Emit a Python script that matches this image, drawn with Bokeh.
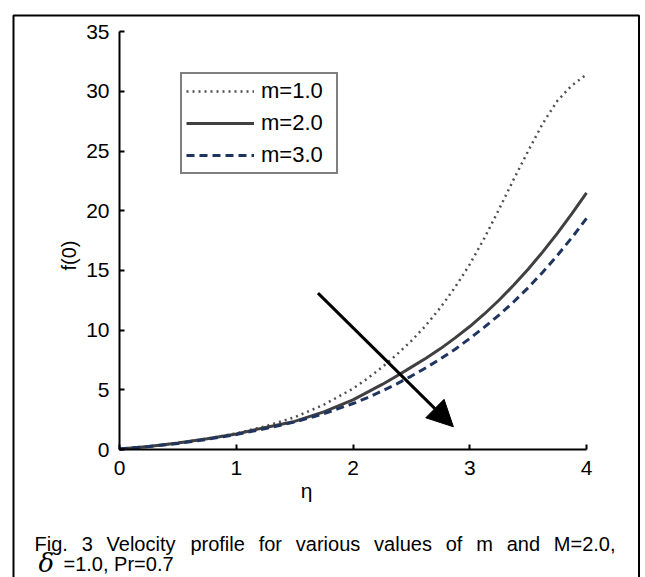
import math
from bokeh.plotting import figure
from bokeh.models import (Range1d, LinearAxis, FixedTicker, Legend, LegendItem,
                          Arrow, NormalHead)
from bokeh.embed import file_html
from bokeh.resources import INLINE
from bokeh.core.properties import value

# ---------------- data ----------------
eta = [0.0, 0.25, 0.5, 0.75, 1.0, 1.25, 1.5, 1.75, 2.0, 2.125, 2.25, 2.375,
       2.5, 2.625, 2.75, 2.875, 3.0, 3.125, 3.25, 3.375, 3.5, 3.625, 3.75,
       3.875, 4.0]
f_m1 = [0.05, 0.25, 0.55, 0.9, 1.35, 1.95, 2.7, 3.75, 5.1, 5.95, 6.9, 7.95,
        9.1, 10.4, 11.9, 13.6, 15.5, 17.7, 20.1, 22.6, 25.0, 27.3, 29.2,
        30.5, 31.4]
f_m2 = [0.05, 0.25, 0.55, 0.9, 1.3, 1.85, 2.35, 3.15, 4.15, 4.8, 5.45, 6.15,
        6.9, 7.65, 8.45, 9.35, 10.3, 11.35, 12.5, 13.75, 15.1, 16.55, 18.1,
        19.75, 21.5]
f_m3 = [0.05, 0.25, 0.5, 0.85, 1.25, 1.75, 2.3, 3.0, 3.85, 4.35, 4.9, 5.5,
        6.15, 6.85, 7.6, 8.4, 9.3, 10.25, 11.25, 12.35, 13.55, 14.85, 16.25,
        17.75, 19.35]
series_labels = ["m=1.0", "m=2.0", "m=3.0"]
x_ticks = [0, 1, 2, 3, 4]
y_ticks = [0, 5, 10, 15, 20, 25, 30, 35]
x_label = "\u03b7"
y_label = "f(0)"
caption_words = ["Fig.", "3", "Velocity", "profile", "for", "various",
                 "values", "of", "m", "and", "M=2.0,"]
caption_delta = "\u03b4"
caption_line2 = "=1.0, Pr=0.7"
# arrow (data coordinates)
arrow_start = (1.70, 13.1)
arrow_end = (2.86, 1.9)

# ---------------- geometry ----------------
W, H = 641, 577
X0_PX, PX_PER_X = 119.0, 116.75     # px of eta=0, px per unit
Y0_PX, PX_PER_Y = 449.0, 11.94      # px of f=0, px per unit


def px2x(px):
    return (px - X0_PX) / PX_PER_X


def px2y(py):
    return (Y0_PX - py) / PX_PER_Y


FONT = "Liberation Sans"

p = figure(width=W, height=H, output_backend="svg", toolbar_location=None,
           x_axis_location=None, y_axis_location=None,
           x_range=Range1d(px2x(0), px2x(W)),
           y_range=Range1d(px2y(H), px2y(0)),
           min_border=0, min_border_left=0, min_border_right=0,
           min_border_top=0, min_border_bottom=0)
p.outline_line_color = None
p.grid.visible = False
p.background_fill_color = "white"
p.border_fill_color = "white"


def style_axis(ax):
    ax.axis_line_color = "black"
    ax.axis_line_width = 2
    ax.major_tick_in = 5
    ax.major_tick_out = 0
    ax.major_tick_line_color = "black"
    ax.major_tick_line_width = 2
    ax.minor_tick_line_color = None
    ax.major_label_text_font = FONT
    ax.major_label_text_font_size = "21px"
    ax.major_label_text_color = "black"


xaxis = LinearAxis(fixed_location=0, bounds=(0, 4),
                   ticker=FixedTicker(ticks=x_ticks))
style_axis(xaxis)
xaxis.major_label_standoff = 11
p.add_layout(xaxis, "below")

yaxis = LinearAxis(fixed_location=0, bounds=(0, 35),
                   ticker=FixedTicker(ticks=y_ticks))
style_axis(yaxis)
yaxis.major_label_standoff = 10
p.add_layout(yaxis, "left")

# ---------------- outer frame (open at the bottom) ----------------
fx_l, fx_r, fy_t, fy_b = px2x(13), px2x(638.5), px2y(15), px2y(H + 20)
p.line([fx_l, fx_l, fx_r, fx_r], [fy_b, fy_t, fy_t, fy_b],
       line_color="black", line_width=2)

# ---------------- curves ----------------
r1 = p.line(eta, f_m1, line_color="#505050", line_width=2.5, line_dash="2 4")
r2 = p.line(eta, f_m2, line_color="#404040", line_width=3)
r3 = p.line(eta, f_m3, line_color="#1f3560", line_width=3, line_dash="8 5")

legend = Legend(items=[LegendItem(label=series_labels[0], renderers=[r1]),
                       LegendItem(label=series_labels[1], renderers=[r2]),
                       LegendItem(label=series_labels[2], renderers=[r3])],
                location=(180, H - 174),
                border_line_color="black", border_line_width=2,
                background_fill_color="white", background_fill_alpha=1,
                padding=4, spacing=6, margin=0,
                glyph_width=68, glyph_height=26, label_height=26,
                label_width=71, label_standoff=7,
                label_text_font=FONT, label_text_font_size="22px",
                label_text_color="black")
p.add_layout(legend)

# ---------------- arrow ----------------
p.add_layout(Arrow(end=NormalHead(size=26, fill_color="black", line_color="black"),
                   x_start=arrow_start[0], y_start=arrow_start[1],
                   x_end=arrow_end[0], y_end=arrow_end[1],
                   line_color="black", line_width=3))

# ---------------- axis titles ----------------
p.text(x=[px2x(306)], y=[px2y(490)], text=[x_label], text_font=value(FONT),
       text_font_size="21px", text_align="center", text_baseline="middle",
       text_color="black")
p.text(x=[px2x(68)], y=[px2y(255)], text=[y_label], text_font=value(FONT),
       text_font_size="20px", text_align="center", text_baseline="middle",
       angle=math.pi / 2, text_color="black")

# ---------------- caption (justified) ----------------
AW = {" ": 278, "F": 611, "i": 222, "g": 556, ".": 278, "3": 556, "V": 667,
      "e": 556, "l": 222, "o": 556, "c": 500, "t": 278, "y": 500, "p": 556,
      "r": 333, "f": 278, "a": 556, "u": 556, "s": 500, "v": 500, "m": 833,
      "n": 556, "d": 556, "M": 833, "=": 584, "2": 556, "0": 556, ",": 278}
CAP_SIZE = 20
cap_left, cap_right = 34.0, 615.0
wlen = [sum(AW[c] for c in w) * CAP_SIZE / 1000 for w in caption_words]
gap = (cap_right - cap_left - sum(wlen)) / (len(caption_words) - 1)
xs, cur = [], cap_left
for wl in wlen:
    xs.append(px2x(cur))
    cur += wl + gap
p.text(x=xs, y=[px2y(543)] * len(xs), text=caption_words, text_font=value(FONT),
       text_font_size=f"{CAP_SIZE}px", text_align="left",
       text_baseline="alphabetic", text_color="black")
p.text(x=[px2x(38)], y=[px2y(562)], text=[caption_delta],
       text_font=value("DejaVu Serif"), text_font_style="italic",
       text_font_size="26px", text_align="left", text_baseline="alphabetic",
       text_color="black")
p.text(x=[px2x(63)], y=[px2y(563)], text=[caption_line2], text_font=value(FONT),
       text_font_size=f"{CAP_SIZE}px", text_align="left",
       text_baseline="alphabetic", text_color="black")

open("out.html", "w").write(file_html(p, INLINE))
